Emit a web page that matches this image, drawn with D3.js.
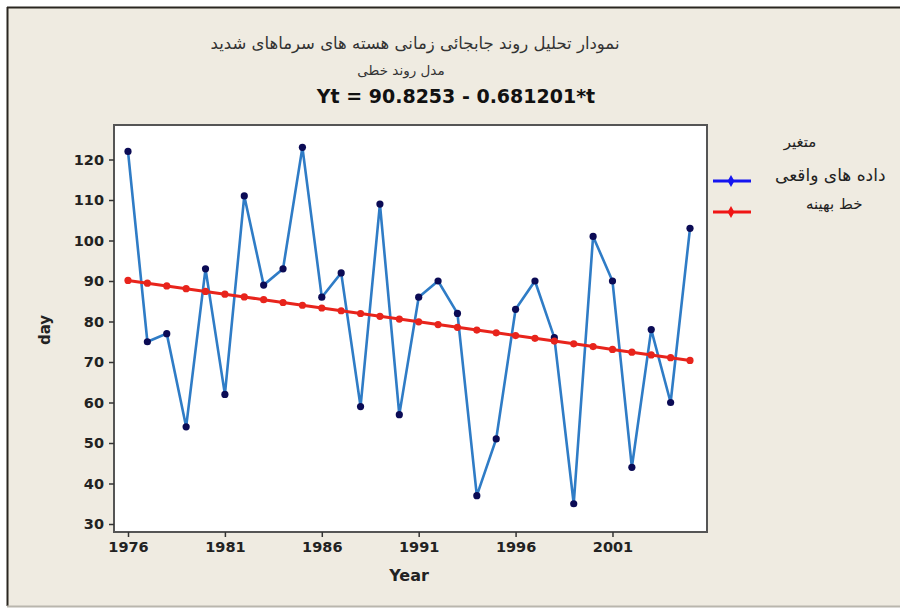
<!DOCTYPE html>
<html>
<head>
<meta charset="utf-8">
<script src="https://cdn.jsdelivr.net/npm/d3@7"></script>
<style>
  body { margin: 0; background: #fff; }
  svg { display: block; }
  text { font-family: "DejaVu Sans", Tahoma, sans-serif; }
</style>
</head>
<body>
<div id="chart"></div>
<script>
// years and observed values (days)
const years = d3.range(1976, 2006);
const actual = [122, 75, 77, 54, 93, 62, 111, 89, 93, 123, 86, 92, 59, 109, 57,
                86, 90, 82, 37, 51, 83, 90, 76, 35, 101, 90, 44, 78, 60, 103];
// fitted trend values Yt = 90.8253 - 0.681201*t
const fitted = [90.14, 89.46, 88.78, 88.10, 87.42, 86.74, 86.06, 85.38, 84.69, 84.01,
                83.33, 82.65, 81.97, 81.29, 80.61, 79.93, 79.24, 78.56, 77.88, 77.20,
                76.52, 75.84, 75.16, 74.48, 73.80, 73.11, 72.43, 71.75, 71.07, 70.39];
const xTicks = [1976, 1981, 1986, 1991, 1996, 2001];
const yTicks = [30, 40, 50, 60, 70, 80, 90, 100, 110, 120];

const titleLines = ["نمودار تحلیل روند جابجائی زمانی هسته های سرماهای شدید", "مدل روند خطی"];
const equation = "Yt = 90.8253 - 0.681201*t";
const legendTitle = "متغیر";
const legendItems = [
  { label: "داده های واقعی", color: "#1515f0" },
  { label: "خط بهینه", color: "#f01515" }
];

const W = 900, H = 608;
const frame = { left: 114, right: 707, top: 125, bottom: 532 };

const svg = d3.select("#chart").append("svg").attr("width", W).attr("height", H);

// window background
svg.append("rect").attr("width", W).attr("height", H).attr("fill", "#fff");
svg.append("rect").attr("x", 7).attr("y", 7).attr("width", W - 7).attr("height", 599)
  .attr("fill", "#efebe1");
svg.append("line").attr("x1", 7).attr("x2", W).attr("y1", 7.5).attr("y2", 7.5)
  .attr("stroke", "#2a2620").attr("stroke-width", 2);
svg.append("line").attr("x1", 7.5).attr("x2", 7.5).attr("y1", 7).attr("y2", 606)
  .attr("stroke", "#2a2620").attr("stroke-width", 2);
svg.append("line").attr("x1", 7).attr("x2", W).attr("y1", 606.5).attr("y2", 606.5)
  .attr("stroke", "#b9b6ad").attr("stroke-width", 2);

// plot area
svg.append("rect")
  .attr("x", frame.left).attr("y", frame.top)
  .attr("width", frame.right - frame.left).attr("height", frame.bottom - frame.top)
  .attr("fill", "#fff").attr("stroke", "#555").attr("stroke-width", 2);

const x = d3.scaleLinear().domain([1976, 2005]).range([128, 690]);
const y = d3.scaleLinear().domain([30, 120]).range([524, 159.5]);

// axes
const xAxis = svg.append("g").attr("transform", `translate(0,${frame.bottom})`)
  .call(d3.axisBottom(x).tickValues(xTicks).tickFormat(d3.format("d")).tickSize(5).tickPadding(5));
const yAxis = svg.append("g").attr("transform", `translate(${frame.left},0)`)
  .call(d3.axisLeft(y).tickValues(yTicks).tickSize(5).tickPadding(5));
[xAxis, yAxis].forEach(g => {
  g.select(".domain").remove();
  g.selectAll(".tick line").attr("stroke", "#333").attr("stroke-width", 1.5);
  g.selectAll(".tick text").attr("fill", "#222").style("font-size", "14.5px").style("font-weight", "bold");
});

svg.append("text").attr("x", 409).attr("y", 581).attr("text-anchor", "middle")
  .style("font-size", "16px").style("font-weight", "bold").attr("fill", "#222").text("Year");
svg.append("text").attr("transform", "translate(50,330) rotate(-90)").attr("text-anchor", "middle")
  .style("font-size", "15px").style("font-weight", "bold").attr("fill", "#222").text("day");

// titles
svg.append("text").attr("x", 415).attr("y", 49).attr("text-anchor", "middle")
  .style("font-size", "16.5px").attr("fill", "#333").text(titleLines[0]);
svg.append("text").attr("x", 401).attr("y", 75).attr("text-anchor", "middle")
  .style("font-size", "13.5px").attr("fill", "#333").text(titleLines[1]);
svg.append("text").attr("x", 456).attr("y", 103).attr("text-anchor", "middle")
  .style("font-size", "19px").style("font-weight", "bold").attr("fill", "#111").text(equation);

// series
const actualData = years.map((yr, i) => ({ yr, v: actual[i] }));
const fitData = years.map((yr, i) => ({ yr, v: fitted[i] }));
const line = d3.line().x(d => x(d.yr)).y(d => y(d.v));

svg.append("path").datum(actualData).attr("d", line)
  .attr("fill", "none").attr("stroke", "#2f7cc6").attr("stroke-width", 2.6);
svg.append("g").selectAll("circle").data(actualData).join("circle")
  .attr("cx", d => x(d.yr)).attr("cy", d => y(d.v)).attr("r", 3.6).attr("fill", "#0b0b55");

svg.append("path").datum(fitData).attr("d", line)
  .attr("fill", "none").attr("stroke", "#e8241c").attr("stroke-width", 3);
svg.append("g").selectAll("circle").data(fitData).join("circle")
  .attr("cx", d => x(d.yr)).attr("cy", d => y(d.v)).attr("r", 3.6).attr("fill", "#e8241c");

// legend
svg.append("text").attr("x", 800).attr("y", 147).attr("text-anchor", "middle")
  .style("font-size", "15px").attr("fill", "#222").text(legendTitle);
const leg = svg.append("g").selectAll("g").data(legendItems).join("g")
  .attr("transform", (d, i) => `translate(0,${181 + i * 31})`);
leg.append("line").attr("x1", 713).attr("x2", 751).attr("stroke", d => d.color).attr("stroke-width", 3);
leg.append("path").attr("transform", "translate(731,0)")
  .attr("d", d3.symbol(d3.symbolDiamond, 40)).attr("fill", d => d.color);
leg.append("text").attr("x", (d, i) => i === 0 ? 775 : 806).attr("y", (d, i) => i === 0 ? 0 : -3)
  .style("font-size", (d, i) => i === 0 ? "17px" : "15px").attr("fill", "#222").text(d => d.label);
</script>
</body>
</html>
